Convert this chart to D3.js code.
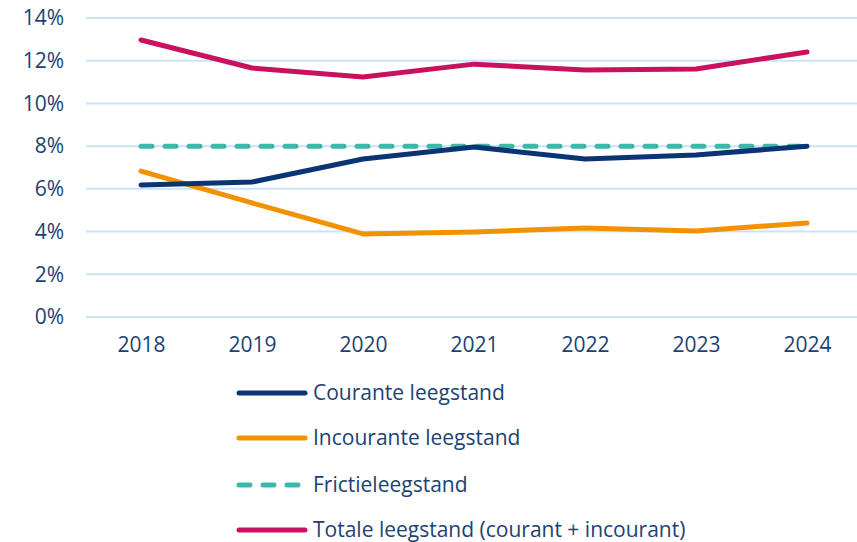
<!DOCTYPE html>
<html><head><meta charset="utf-8">
<script src="https://cdn.jsdelivr.net/npm/d3@7"></script>
<style>body{margin:0;background:#fff;} svg{display:block;}</style>
</head><body>
<svg id="c" width="857" height="542"></svg>
<script>
const years = ["2018","2019","2020","2021","2022","2023","2024"];
const courant = [6.18, 6.32, 7.40, 7.96, 7.40, 7.58, 8.00];
const incourant = [6.83, 5.34, 3.89, 3.98, 4.17, 4.03, 4.40];
const frictie = [8, 8, 8, 8, 8, 8, 8];
const totaal = [12.97, 11.66, 11.24, 11.84, 11.56, 11.61, 12.41];
const yTicks = [0, 2, 4, 6, 8, 10, 12, 14];
const seriesNames = ["Courante leegstand", "Incourante leegstand", "Frictieleegstand", "Totale leegstand (courant + incourant)"];
const seriesColors = ["#0b3474", "#f39200", "#3cb8aa", "#c8115f"];

const series = [
  {name: seriesNames[0], values: courant, color: seriesColors[0], dash: null},
  {name: seriesNames[1], values: incourant, color: seriesColors[1], dash: null},
  {name: seriesNames[2], values: frictie, color: seriesColors[2], dash: "11 13"},
  {name: seriesNames[3], values: totaal, color: seriesColors[3], dash: null}
];

const svg = d3.select("#c");
const font = "'Open Sans', Lato, sans-serif";
const fs = 21;
const textColor = "#1b4272";

const x = d3.scalePoint().domain(years).range([141, 807]);
const y = d3.scaleLinear().domain([0, 14]).range([317, 18]);

// gridlines
svg.append("g").selectAll("line").data(yTicks).join("line")
  .attr("x1", 86).attr("x2", 857)
  .attr("y1", d => y(d)).attr("y2", d => y(d))
  .attr("stroke", "#c9e4f8").attr("stroke-width", 2);

// y axis labels
const yAxis = d3.axisLeft(y).tickValues(yTicks).tickFormat(d => d + "%").tickSize(0).tickPadding(0);
const ya = svg.append("g").attr("transform", "translate(64,0)").call(yAxis);
ya.select(".domain").remove();
ya.selectAll("text").attr("font-family", font).attr("font-size", fs).attr("fill", textColor);

// x axis labels
const xAxis = d3.axisBottom(x).tickSize(0).tickPadding(0);
const xa = svg.append("g").attr("transform", "translate(0,337)").call(xAxis);
xa.select(".domain").remove();
xa.selectAll("text").attr("font-family", font).attr("font-size", fs).attr("fill", textColor).attr("dy", "0.71em");

// lines
const line = d3.line().x((d, i) => x(years[i])).y(d => y(d));
const drawOrder = [2, 1, 0, 3];
drawOrder.forEach(k => {
  const s = series[k];
  svg.append("path").datum(s.values)
    .attr("d", line).attr("fill", "none")
    .attr("stroke", s.color).attr("stroke-width", 5)
    .attr("stroke-linecap", "round").attr("stroke-linejoin", "round")
    .attr("stroke-dasharray", s.dash);
});

// legend
const legY = [393, 438, 485, 530];
const leg = svg.append("g");
series.forEach((s, i) => {
  leg.append("line").attr("x1", 239).attr("x2", 305)
    .attr("y1", legY[i]).attr("y2", legY[i])
    .attr("stroke", s.color).attr("stroke-width", 5)
    .attr("stroke-linecap", "round")
    .attr("stroke-dasharray", s.dash);
  leg.append("text").attr("x", 313).attr("y", legY[i]).attr("dy", "0.35em")
    .attr("font-family", font).attr("font-size", fs).attr("fill", textColor)
    .text(s.name);
});
</script>
</body></html>
